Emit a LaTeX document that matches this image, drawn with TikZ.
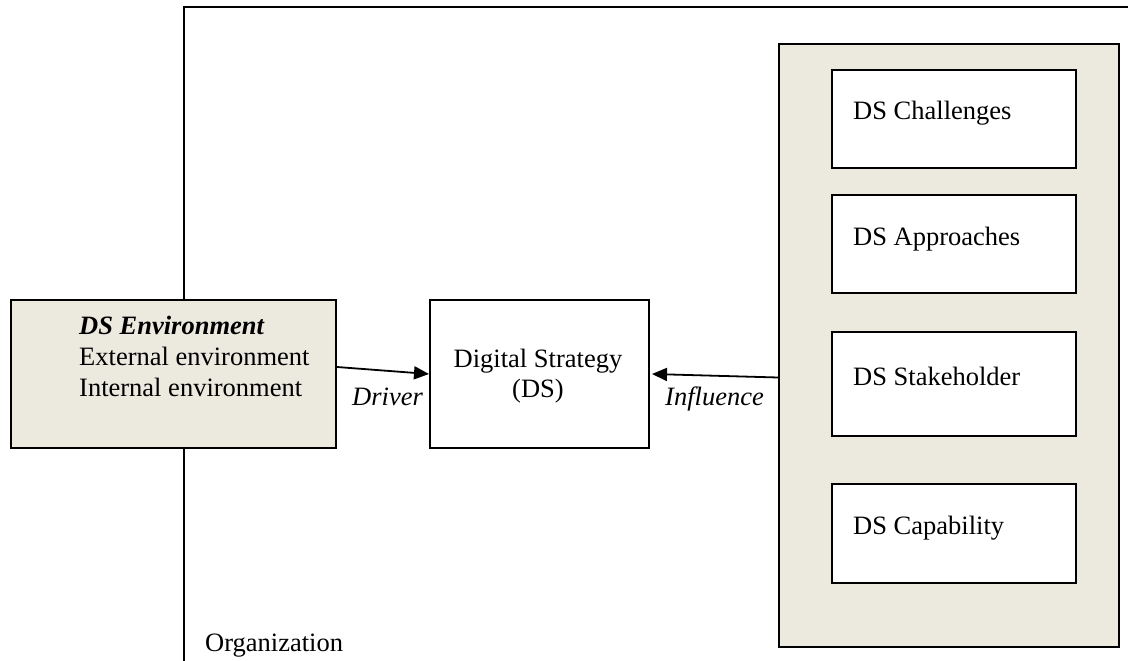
\documentclass[tikz,border=0pt]{standalone}
\usepackage{fontspec}
\setmainfont{Liberation Serif}
\usetikzlibrary{arrows.meta}
\definecolor{beige}{RGB}{236,233,223}
\begin{document}
\begin{tikzpicture}[x=1pt,y=-1pt,
  box/.style={draw, line width=2pt, inner sep=0pt, anchor=north west},
  txt/.style={inner sep=0pt, anchor=base west, font=\fontsize{26.5}{31}\selectfont},
  arr/.style={line width=1.8pt, -{Triangle[length=15pt,width=13pt]}},
]
\useasboundingbox (0,0) rectangle (1128,661);
% organization frame
\coordinate (orgR) at (1128,7);
\coordinate (orgC) at (184,7);
\coordinate (orgB) at (184,661);
\draw[line width=2pt] (orgR) -- (orgC) -- (orgB);
% DS environment
\node[box, fill=beige, minimum width=325pt, minimum height=148pt] (env) at (10,299) {};
\node[txt] (envt1) at (79,334) {\textbf{\textit{DS Environment}}};
\node[txt] (envt2) at (79,365) {External environment};
\node[txt] (envt3) at (79,396) {Internal environment};
% Digital strategy
\node[box, fill=white, minimum width=219pt, minimum height=148pt] (ds) at (429,299) {};
\node[txt, anchor=base] (dst1) at (538,367) {Digital Strategy};
\node[txt, anchor=base] (dst2) at (538,397) {(DS)};
% right panel
\node[box, fill=beige, minimum width=340pt, minimum height=603pt] (right) at (778,43) {};
\node[box, fill=white, minimum width=244pt, minimum height=98pt] (chal) at (831,69) {};
\node[txt] (chalt) at (853,120) {DS Challenges};
\node[box, fill=white, minimum width=244pt, minimum height=98pt] (appr) at (831,194) {};
\node[txt] (apprt) at (853,245) {DS Approaches};
\node[box, fill=white, minimum width=244pt, minimum height=104pt] (stak) at (831,331) {};
\node[txt] (stakt) at (853,385) {DS Stakeholder};
\node[box, fill=white, minimum width=244pt, minimum height=99pt] (capa) at (831,483) {};
\node[txt] (capat) at (853,534) {DS Capability};
% arrows
\draw[arr] ([yshift=7pt]env.east) -- (ds.west);
\node[txt] (drv) at (352,405) {\textit{Driver}};
\draw[arr] ([yshift=-32pt]right.west) -- ([xshift=2pt]ds.east);
\node[txt] (inf) at (665,405) {\textit{Influence}};
% organization label
\node[txt] (org) at (205,651) {Organization};
\end{tikzpicture}
\end{document}
